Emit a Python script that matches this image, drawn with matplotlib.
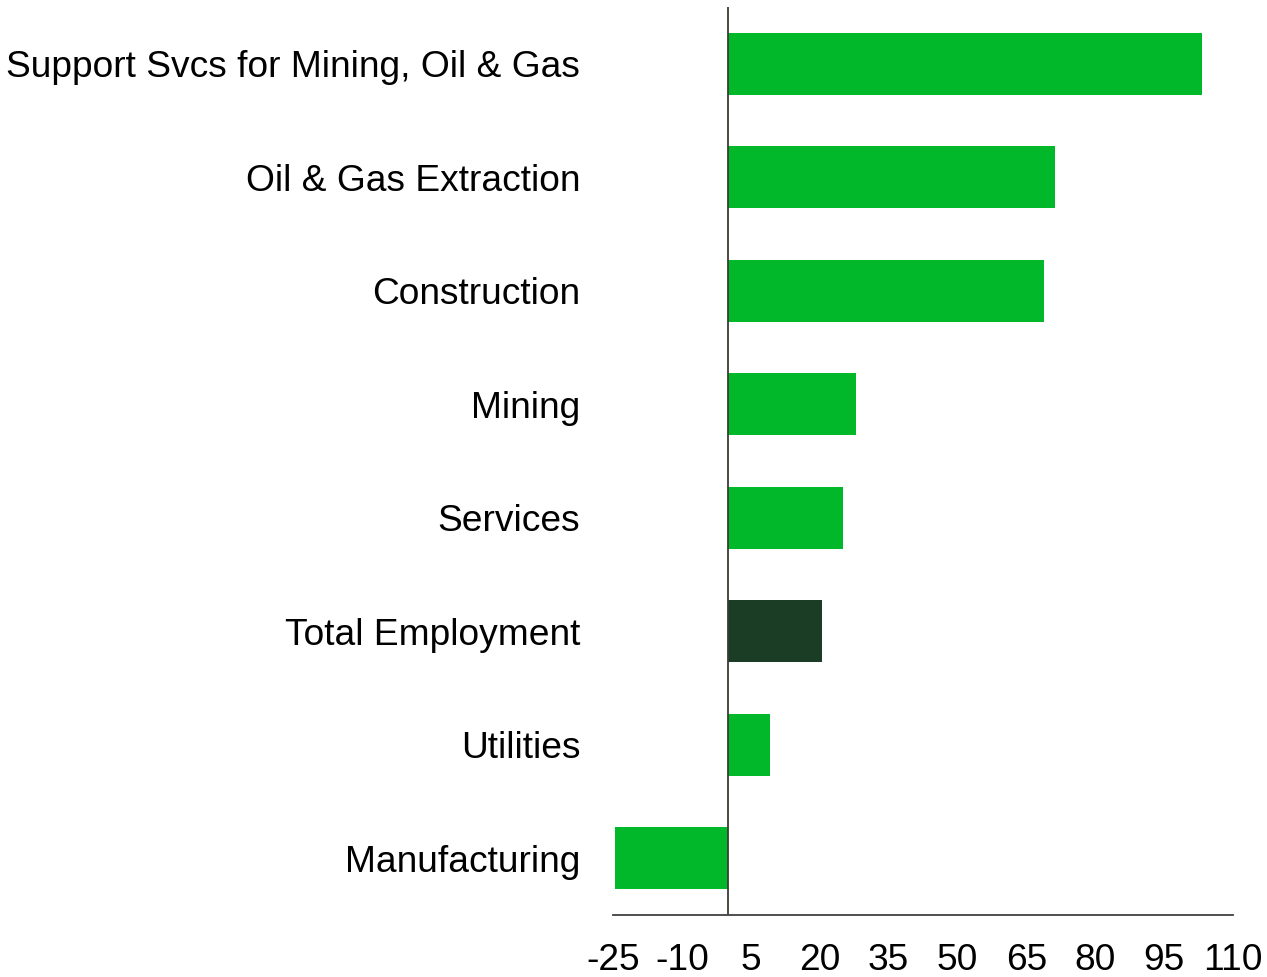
import matplotlib.pyplot as plt

# Data
categories = ["Manufacturing", "Utilities", "Total Employment", "Services",
              "Mining", "Construction", "Oil & Gas Extraction",
              "Support Svcs for Mining, Oil & Gas"]
values = [-24.6, 9.1, 20.5, 25.0, 27.9, 68.8, 71.2, 103.2]
xticks = [-25, -10, 5, 20, 35, 50, 65, 80, 95, 110]

GREEN = "#00b829"
DARK = "#1b3d26"
colors = [DARK if c == "Total Employment" else GREEN for c in categories]

plt.rcParams['font.family'] = ['Liberation Sans', 'DejaVu Sans']
plt.rcParams['axes.unicode_minus'] = False

fig = plt.figure(figsize=(12.67, 9.77), dpi=100)
ax = fig.add_axes([0.4838, 0.0635, 0.4894, 0.9293])

ax.barh(range(len(categories)), values, height=0.55, color=colors)
ax.axvline(0, color="#3c3c30", linewidth=1.3)

ax.set_xlim(-25, 110)
ax.set_ylim(-0.5, len(categories) - 0.5)
ax.set_xticks(xticks)
ax.set_yticks(range(len(categories)))
ax.set_yticklabels(categories)
ax.tick_params(axis="both", length=0, labelsize=26.7)
ax.tick_params(axis="y", pad=23.5)
ax.tick_params(axis="x", pad=20)

for side in ["left", "right", "top"]:
    ax.spines[side].set_visible(False)
ax.spines["bottom"].set_color("#404040")
ax.spines["bottom"].set_linewidth(1.3)

fig.savefig("out.png", dpi=100)
